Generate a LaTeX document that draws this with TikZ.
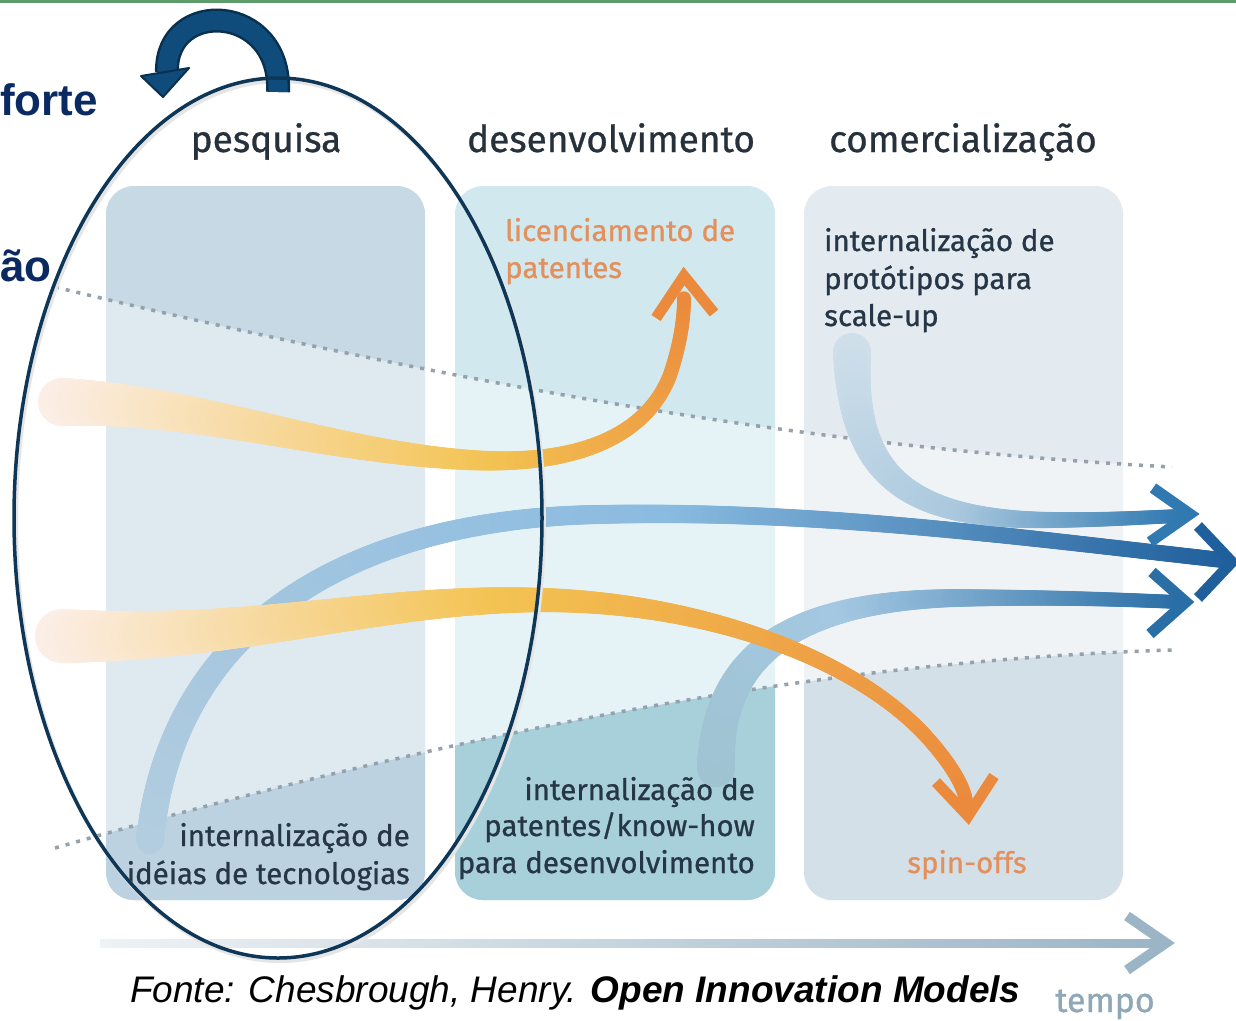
\documentclass[tikz,border=0pt]{standalone}
\usepackage{fontspec}
\setmainfont{Fira Sans}[FakeBold=0.8]
\newfontfamily\arialfont{Liberation Sans}
\usetikzlibrary{decorations.markings,shapes.geometric}
\definecolor{topgreen}{HTML}{5E9B6B}
\definecolor{navytxt}{HTML}{0B2A62}
\definecolor{boxA}{HTML}{C6D9E5}
\definecolor{boxAlow}{HTML}{BCD2E0}
\definecolor{boxB}{HTML}{D1E8EF}
\definecolor{boxBlow}{HTML}{A8D0DA}
\definecolor{boxC}{HTML}{E3EAF0}
\definecolor{boxClow}{HTML}{D4E0E8}
\definecolor{dotc}{HTML}{95A1AC}
\definecolor{oPale}{HTML}{FBEEE6}
\definecolor{oYel}{HTML}{F3C352}
\definecolor{oOr}{HTML}{EB8A3C}
\definecolor{bgS}{HTML}{B3CDDF}
\definecolor{bgM}{HTML}{8ABBE0}
\definecolor{bgE}{HTML}{1F5F9C}
\definecolor{blS}{HTML}{9FC3D0}
\definecolor{blM}{HTML}{A4C8E2}
\definecolor{blE}{HTML}{2A6EA6}
\definecolor{scS}{HTML}{CFDFEA}
\definecolor{scM}{HTML}{A9C8DE}
\definecolor{scE}{HTML}{3179B1}
\definecolor{ellc}{HTML}{0E3657}
\definecolor{loopc}{HTML}{0F4C7C}
\definecolor{loopo}{HTML}{08304F}
\definecolor{darktxt}{HTML}{263646}
\definecolor{ortxt}{HTML}{E3905D}
\definecolor{hdrtxt}{HTML}{27313C}
\definecolor{tempoc}{HTML}{8FA7B7}
\definecolor{timeL}{HTML}{EEF2F5}
\definecolor{timeR}{HTML}{9BB5C6}
\tikzset{
  colbox/.style={rounded corners=28pt},
  dotline/.style={dotc, line width=3.5pt, dash pattern=on 4pt off 7pt},
  chev/.style={line width=11pt, line join=miter, line cap=butt},
  hdr/.style={font=\fontsize{37}{40}\selectfont, text=hdrtxt, inner sep=0pt},
  boxtxt/.style={font=\fontsize{29.5}{36}\selectfont, text=darktxt, inner sep=0pt},
  ortext/.style={font=\fontsize{29.5}{36}\selectfont, text=ortxt, inner sep=0pt},
  leftbig/.style={font=\arialfont\bfseries\fontsize{44}{50}\selectfont, text=navytxt, inner sep=0pt},
  band/.style n args={6}{% r0, r1, c0, c1, c2, mid
    postaction={decorate},
    decoration={markings,
      mark=between positions 0 and 1 step 2pt with {%
        \pgfmathsetmacro\gbf{\pgfkeysvalueof{/pgf/decoration/mark info/distance from start}/\pgfdecoratedpathlength}%
        \pgfmathsetmacro\gbr{#2+(#1-#2)*(1-\gbf)^2}%
        \ifdim\gbf pt<#6pt
          \pgfmathtruncatemacro\gbp{100*\gbf/#6}%
          \colorlet{gbcol}{#4!\gbp!#3}%
        \else
          \pgfmathtruncatemacro\gbp{100*(\gbf-#6)/(1-#6)}%
          \colorlet{gbcol}{#5!\gbp!#4}%
        \fi
        \fill[gbcol] (0,0) circle[radius=\gbr pt];%
      }}}
}
\newcommand\LowRegion{(55,848) .. controls (500,720) and (850,660) .. (1172,650) -- (1180,650) -- (1180,1010) -- (50,1010) -- (50,848) -- cycle}
\begin{document}
\begin{tikzpicture}[x=1pt,y=-1pt]
\useasboundingbox (0,0) rectangle (1236,1020);
\clip (0,0) rectangle (1236,1020);
\fill[white] (0,0) rectangle (1236,1020);
\fill[topgreen] (0,0) rectangle (1236,3);

% column boxes
\fill[boxA, colbox] (106,186) rectangle (425,900);
\fill[boxB, colbox] (455,186) rectangle (775,900);
\fill[boxC, colbox] (804,186) rectangle (1123,900);
\begin{scope}\clip[colbox] (106,186) rectangle (425,900); \fill[boxAlow] \LowRegion; \end{scope}
\begin{scope}\clip[colbox] (455,186) rectangle (775,900); \fill[boxBlow] \LowRegion; \end{scope}
\begin{scope}\clip[colbox] (804,186) rectangle (1123,900); \fill[boxClow] \LowRegion; \end{scope}
\fill[white, opacity=0.45] (55,287) .. controls (500,395) and (850,450) .. (1172,467) -- (1172,650) .. controls (850,660) and (500,720) .. (55,848) -- cycle;

% dotted boundaries
\coordinate (du0) at (55,287); \coordinate (du1) at (1172,467);
\coordinate (dl0) at (55,848); \coordinate (dl1) at (1172,650);
\draw[dotline] (du0) .. controls (500,395) and (850,450) .. (du1);
\draw[dotline] (dl0) .. controls (500,720) and (850,660) .. (dl1);

% time axis
\coordinate (t0) at (100,943); \coordinate (t1) at (1162,943);
\shade[left color=timeL, right color=timeR] (100,939) rectangle (1162,947);
\draw[chev, timeR, line width=10pt] (1127,916) -- (1166,943) -- (1127,970);

% headers
\node[hdr, anchor=base] (hP) at (266,152) {pesquisa};
\node[hdr, anchor=base] (hD) at (611,152) {desenvolvimento};
\node[hdr, anchor=base] (hC) at (963,152) {comercialização};

% box texts
\node[ortext, anchor=base west] (lic1) at (505,241) {licenciamento de};
\node[ortext, anchor=base west] (lic2) at (505,278) {patentes};
\node[boxtxt, anchor=base west] (pr1) at (824,251) {internalização de};
\node[boxtxt, anchor=base west] (pr2) at (824,289) {protótipos para};
\node[boxtxt, anchor=base west] (pr3) at (824,326) {scale-up};
\node[boxtxt, anchor=base east] (pa1) at (755,800) {internalização de};
\node[boxtxt, anchor=base east] (pa2) at (755,836) {patentes/know-how};
\node[boxtxt, anchor=base east] (pa3) at (755,873) {para desenvolvimento};
\node[boxtxt, anchor=base east] (id1) at (410,846) {internalização de};
\node[boxtxt, anchor=base east] (id2) at (410,884) {idéias de tecnologias};
\node[ortext, anchor=base] (spin) at (967,873) {spin-offs};

% big blue band
\coordinate (bgs) at (150,840); \coordinate (bge) at (1222,560);
\path[band={14}{8}{bgS}{bgM}{bgE}{0.55}] (bgs) .. controls (170,640) and (330,525) .. (580,515) .. controls (800,508) and (1000,535) .. (bge);
% lower blue band
\coordinate (bls) at (716,768); \coordinate (ble) at (1178,602);
\path[band={19}{7}{blS}{blM}{blE}{0.4}] (bls) .. controls (716,650) and (800,600) .. (960,598) .. controls (1060,597) and (1130,600) .. (ble);
% orange band 2
\coordinate (o2s) at (62,636); \coordinate (o2e) at (966,802);
\path[band={27}{7}{oPale}{oYel}{oOr}{0.45}] (o2s) .. controls (250,640) and (380,598) .. (540,600) .. controls (700,602) and (850,655) .. (925,735) .. controls (955,768) and (965,790) .. (o2e);
% orange band 1
\coordinate (o1s) at (62,402); \coordinate (o1e) at (684,298);
\path[band={24}{7}{oPale}{oYel}{oOr}{0.6}] (o1s) .. controls (200,404) and (330,452) .. (470,460) .. controls (570,466) and (645,440) .. (670,375) .. controls (680,345) and (684,320) .. (o1e);
% scale-up band
\coordinate (scs) at (852,352); \coordinate (sce) at (1180,516);
\path[band={19}{7}{scS}{scM}{scE}{0.5}] (scs) .. controls (852,470) and (900,520) .. (1050,520) .. controls (1110,520) and (1150,517) .. (sce);

% arrow heads
\draw[chev, oOr] (656,318) -- (684,276) -- (714,313);
\draw[chev, oOr] (936,782) -- (968,816) -- (994,776);
\draw[chev, scE] (1153,488) -- (1190,514) -- (1150,542);
\draw[chev, bgE] (1198,526) -- (1232,562) -- (1198,598);
\draw[chev, blE] (1152,572) -- (1186,602) -- (1150,634);

% loop arrow
\node[ellipse, draw=black!10, line width=4pt, minimum width=528pt, minimum height=880pt, inner sep=0pt] (shadow) at (280,521) {};
\coordinate (lp0) at (278,92); \coordinate (lp1) at (167,72);
\draw[loopo, line width=24pt] (lp0) .. controls (282,3) and (165,-2) .. (lp1);
\draw[loopc, line width=19pt] (lp0) .. controls (282,3) and (165,-2) .. (lp1);
\filldraw[fill=loopc, draw=loopo, line width=2pt, line join=round] (141,76) -- (189,68) -- (163,97) -- cycle;

% focus ellipse
\node[ellipse, draw=ellc, line width=3.5pt, minimum width=528pt, minimum height=880pt, inner sep=0pt] (focus) at (278,518) {};

% left cut texts
\node[leftbig, anchor=base east] (forte) at (98,115) {forte};
\node[leftbig, anchor=base west] (ao) at (0,281) {ão};

% footer
\node[font=\arialfont\itshape\fontsize{37}{40}\selectfont, anchor=base west, inner sep=0pt] (fonte) at (130,1002) {Fonte: Chesbrough, Henry. \textbf{Open Innovation Models}};
\node[font=\fontsize{34}{38}\selectfont, text=tempoc, anchor=base west, inner sep=0pt] (tempo) at (1055,1012) {tempo};
\end{tikzpicture}
\end{document}
